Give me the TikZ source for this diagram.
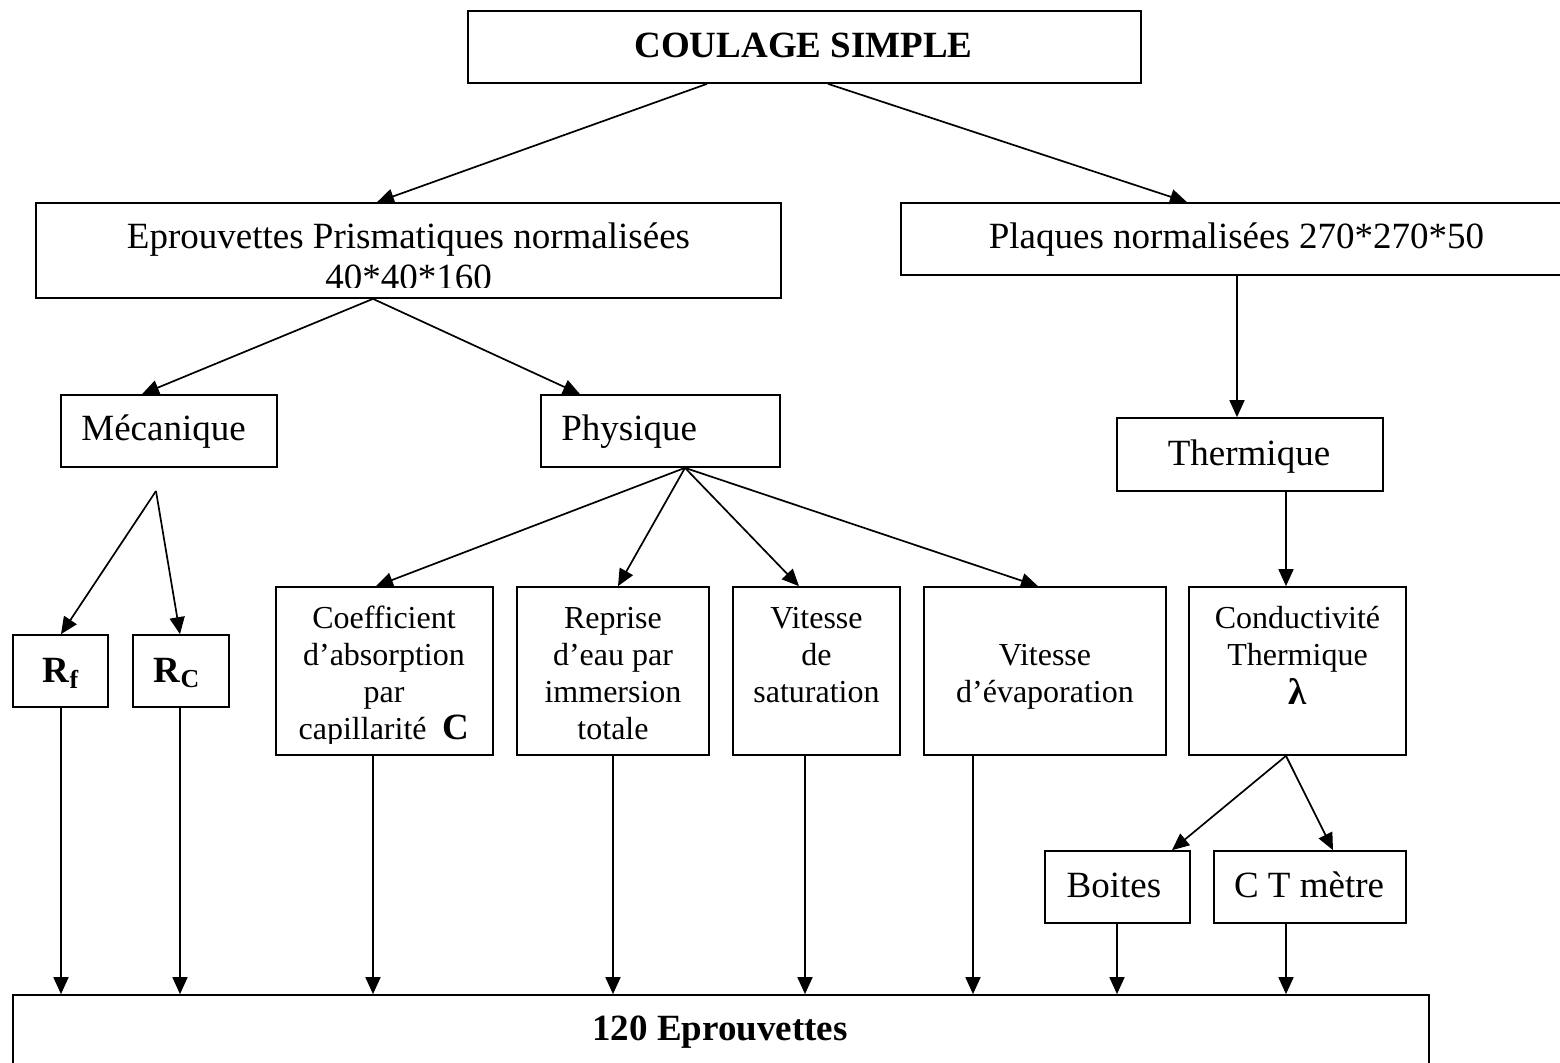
\documentclass[tikz,border=0pt]{standalone}
\usepackage{fontspec}
\setmainfont{Liberation Serif}
\usetikzlibrary{arrows.meta}
\begin{document}
\begin{tikzpicture}[x=0.5pt,y=-0.5pt,
  box/.style={draw,line width=0.85pt,inner sep=0pt,rectangle},
  big/.style={font=\fontsize{18.5}{20.5}\selectfont,inner sep=0pt},
  bigb/.style={font=\fontsize{18.5}{20.5}\selectfont\bfseries,inner sep=0pt},
  sml/.style={font=\fontsize{16}{18.5}\selectfont,inner sep=0pt,align=center,anchor=north},
  arr/.style={line width=0.85pt,-{Triangle[length=8.5pt,width=7.5pt]}},
]
\clip (0,0) rectangle (1560,1062);
\fill[white] (0,0) rectangle (1560,1062);

% boxes
\node[box,minimum width=336.5pt,minimum height=36pt] (coul) at (804.5,47) {};
\node[box,minimum width=372.5pt,minimum height=47.5pt] (eprouv) at (408.5,250.5) {};
\node[box,minimum width=335.5pt,minimum height=36pt] (plaq) at (1236.5,239) {};
\node[box,minimum width=108pt,minimum height=36pt] (meca) at (169,431) {};
\node[box,minimum width=119.5pt,minimum height=36pt] (phys) at (660.5,431) {};
\node[box,minimum width=133pt,minimum height=36.5pt] (therm) at (1250,454.5) {};
\node[box,minimum width=47.5pt,minimum height=36pt] (rf) at (60.5,671) {};
\node[box,minimum width=48pt,minimum height=36pt] (rc) at (181,671) {};
\node[box,minimum width=108.5pt,minimum height=84pt] (coef) at (384.5,671) {};
\node[box,minimum width=96pt,minimum height=84pt] (repr) at (613,671) {};
\node[box,minimum width=83.5pt,minimum height=84pt] (vsat) at (816.5,671) {};
\node[box,minimum width=121pt,minimum height=84pt] (vevap) at (1045,671) {};
\node[box,minimum width=108.5pt,minimum height=84pt] (cond) at (1297.5,671) {};
\node[box,minimum width=72.5pt,minimum height=36pt] (boites) at (1117.5,887) {};
\node[box,minimum width=96pt,minimum height=36pt] (ctm) at (1310,887) {};
\node[box,minimum width=708pt,minimum height=34.5pt] (total) at (721,1029.5) {};

% texts
\node[bigb,anchor=base] (coulT) at (803.5,57) {COULAGE SIMPLE};
\begin{scope}
  \clip (36,203) rectangle (781,287);
  \node[big,align=center,anchor=north] (eprouvT) at (408.5,219.3)
    {\strut Eprouvettes Prismatiques normalisées\\\strut 40*40*160};
\end{scope}
\node[big,anchor=base] (plaqT) at (1236.5,248) {Plaques normalisées 270*270*50};
\node[big,anchor=base west] (mecaT) at (81,440) {Mécanique};
\node[big,anchor=base west] (physT) at (561,440) {Physique};
\node[big,anchor=base] (thermT) at (1249,465) {Thermique};
\node[bigb,anchor=base] (rfT) at (61,682) {R\textsubscript{f}};
\node[bigb,anchor=base] (rcT) at (177,682) {R\textsubscript{C}};
\begin{scope}
  \clip (276,587) rectangle (493,743);
  \node[sml] (coefT) at (384,602.1)
    {\strut Coefficient\\\strut d’absorption\\\strut par\\\strut capillarité\ \ {\fontsize{18.5}{18.5}\selectfont\bfseries C}};
\end{scope}
\node[sml] (reprT) at (613,602.1)
  {\strut Reprise\\\strut d’eau par\\\strut immersion\\\strut totale};
\node[sml] (vsatT) at (816.5,602.1)
  {\strut Vitesse\\\strut de\\\strut saturation};
\node[sml] (vevapT) at (1045,639.1)
  {\strut Vitesse\\\strut d’évaporation};
\node[sml] (condT) at (1297.5,602.1)
  {\strut Conductivité\\\strut Thermique\\\strut{\fontsize{18.5}{18.5}\selectfont\bfseries λ}};
\node[big,anchor=base] (boitesT) at (1114,897) {Boites};
\node[big,anchor=base] (ctmT) at (1309,897) {C T mètre};
\node[bigb,anchor=base] (totalT) at (720,1040) {120 Eprouvettes};

% connectors
\draw[arr] (coul.south -| 707,0) -- (eprouv.north -| 377,0);
\draw[arr] (coul.south -| 828,0) -- (plaq.north -| 1187,0);
\draw[arr] (eprouv.south -| 373,0) -- (meca.north -| 142,0);
\draw[arr] (eprouv.south -| 373,0) -- (phys.north -| 580,0);
\draw[arr] (plaq.south -| 1237,0) -- (therm.north -| 1237,0);
\coordinate (mecaApex) at (156,491);
\draw[arr] (mecaApex) -- (rf.north -| 61,0);
\draw[arr] (mecaApex) -- (rc.north -| 180,0);
\draw[arr] (phys.south -| 685,0) -- (coef.north -| 376,0);
\draw[arr] (phys.south -| 685,0) -- (repr.north -| 618,0);
\draw[arr] (phys.south -| 685,0) -- (vsat.north -| 799,0);
\draw[arr] (phys.south -| 685,0) -- (vevap.north -| 1038,0);
\draw[arr] (therm.south -| 1286,0) -- (cond.north -| 1286,0);
\draw[arr] (cond.south -| 1286,0) -- (boites.north -| 1172,0);
\draw[arr] (cond.south -| 1286,0) -- (ctm.north -| 1333,0);
\draw[arr] (rf.south -| 61,0) -- (total.north -| 61,0);
\draw[arr] (rc.south -| 180,0) -- (total.north -| 180,0);
\draw[arr] (coef.south -| 373,0) -- (total.north -| 373,0);
\draw[arr] (repr.south -| 613,0) -- (total.north -| 613,0);
\draw[arr] (vsat.south -| 805,0) -- (total.north -| 805,0);
\draw[arr] (vevap.south -| 973,0) -- (total.north -| 973,0);
\draw[arr] (boites.south -| 1117,0) -- (total.north -| 1117,0);
\draw[arr] (ctm.south -| 1286,0) -- (total.north -| 1286,0);
\end{tikzpicture}
\end{document}
